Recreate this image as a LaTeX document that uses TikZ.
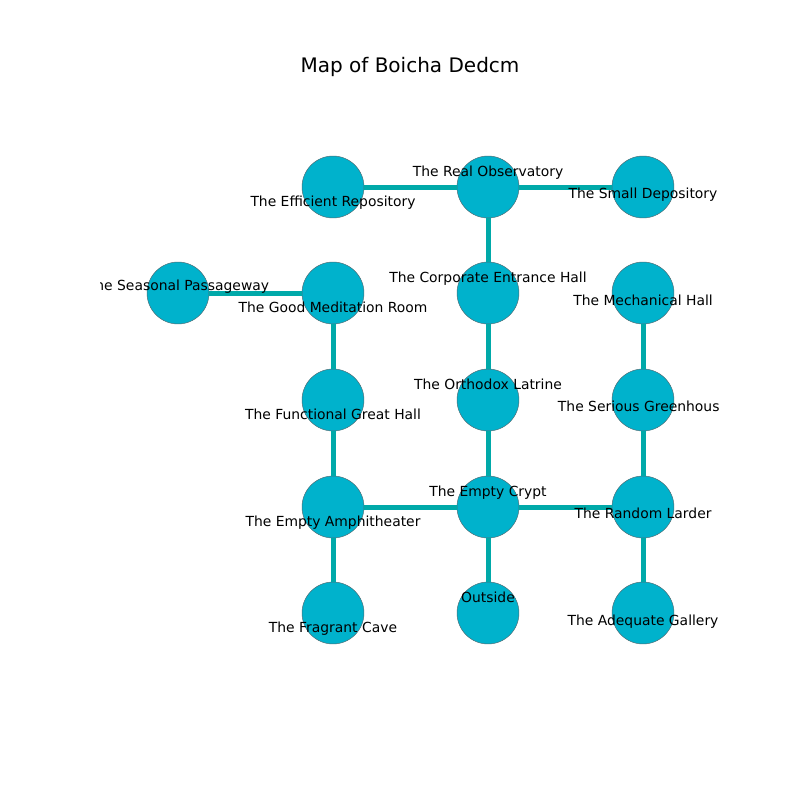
\documentclass[tikz,border=0pt]{standalone}
\usepackage{fontspec}
\setmainfont{DejaVu Sans}
\usepackage{tikz}
\usetikzlibrary{positioning}
\definecolor{salaRelleno}{HTML}{00B2CC}
\definecolor{salaBorde}{HTML}{4F6B73}
\definecolor{pasillo}{HTML}{00A9A9}
\tikzset{
  sala/.style={circle, minimum size=44.6pt, inner sep=0pt, fill=salaRelleno, draw=salaBorde, line width=0.35pt},
  pasaje/.style={draw=pasillo, line width=3.6pt},
  rotulo/.style={anchor=base, inner sep=0pt, font=\fontsize{10}{12}\selectfont}
}

\begin{document}
\begin{tikzpicture}[x=0.72pt, y=-0.72pt]
        \useasboundingbox (0, 0) rectangle (800, 800);
        \node[font=\fontsize{14.4}{17}\selectfont] (titulo) at (410, 67) {Map of Boicha Dedcm};

        % Salas
        \node[sala] (realObs) at (488, 187) {};
        \node[sala] (effRep) at (333, 187) {};
        \node[sala] (smallDep) at (643, 187) {};
        \node[sala] (seasPass) at (178, 293) {};
        \node[sala] (goodMed) at (333, 293) {};
        \node[sala] (corpHall) at (488, 293) {};
        \node[sala] (mechHall) at (643, 293) {};
        \node[sala] (funcHall) at (333, 400) {};
        \node[sala] (orthLat) at (488, 400) {};
        \node[sala] (serGreen) at (643, 400) {};
        \node[sala] (empAmph) at (333, 507) {};
        \node[sala] (empCrypt) at (488, 507) {};
        \node[sala] (randLard) at (643, 507) {};
        \node[sala] (fragCave) at (333, 613) {};
        \node[sala] (outside) at (488, 613) {};
        \node[sala] (adeqGal) at (643, 613) {};

        % Pasillos
        \draw[pasaje] (effRep) -- (realObs);
        \draw[pasaje] (realObs) -- (smallDep);
        \draw[pasaje] (realObs) -- (corpHall);
        \draw[pasaje] (seasPass) -- (goodMed);
        \draw[pasaje] (goodMed) -- (funcHall);
        \draw[pasaje] (corpHall) -- (orthLat);
        \draw[pasaje] (orthLat) -- (empCrypt);
        \draw[pasaje] (mechHall) -- (serGreen);
        \draw[pasaje] (serGreen) -- (randLard);
        \draw[pasaje] (funcHall) -- (empAmph);
        \draw[pasaje] (empAmph) -- (empCrypt);
        \draw[pasaje] (empCrypt) -- (randLard);
        \draw[pasaje] (empCrypt) -- (outside);
        \draw[pasaje] (empAmph) -- (fragCave);
        \draw[pasaje] (randLard) -- (adeqGal);

        % Rotulos
        \begin{scope}
        \clip (100, 0) rectangle (719, 800);
        \node[rotulo] (lRealObs) at (488, 176) {The Real Observatory};
        \node[rotulo] (lEffRep) at (333, 206) {The Efficient Repository};
        \node[rotulo] (lSmallDep) at (643, 198) {The Small Depository};
        \node[rotulo] (lSeasPass) at (178, 290) {The Seasonal Passageway};
        \node[rotulo] (lGoodMed) at (333, 312) {The Good Meditation Room};
        \node[rotulo] (lCorpHall) at (488, 282) {The Corporate Entrance Hall};
        \node[rotulo] (lMechHall) at (643, 305) {The Mechanical Hall};
        \node[rotulo] (lFuncHall) at (333, 419) {The Functional Great Hall};
        \node[rotulo] (lOrthLat) at (488, 389) {The Orthodox Latrine};
        \node[rotulo] (lSerGreen) at (643, 411) {The Serious Greenhouse};
        \node[rotulo] (lEmpAmph) at (333, 526) {The Empty Amphitheater};
        \node[rotulo] (lEmpCrypt) at (488, 496) {The Empty Crypt};
        \node[rotulo] (lRandLard) at (643, 518) {The Random Larder};
        \node[rotulo] (lFragCave) at (333, 632) {The Fragrant Cave};
        \node[rotulo] (lOutside) at (488, 602) {Outside};
        \node[rotulo] (lAdeqGal) at (643, 625) {The Adequate Gallery};
        \end{scope}
    \end{tikzpicture}
\end{document}
